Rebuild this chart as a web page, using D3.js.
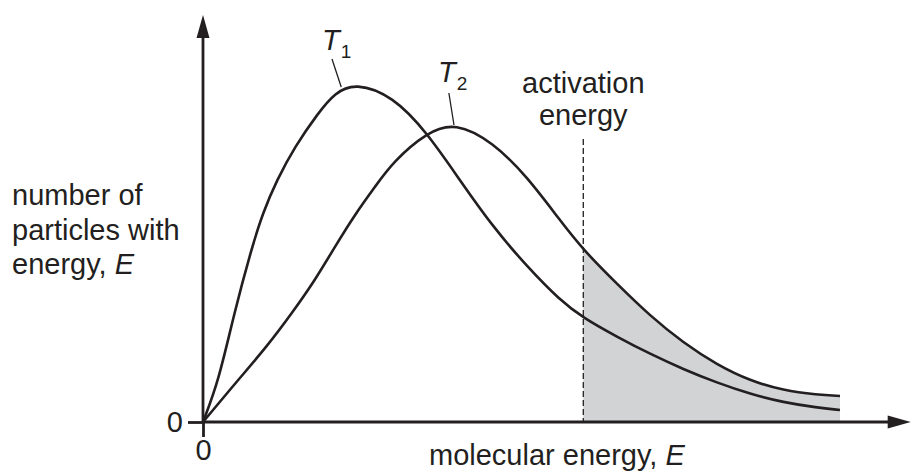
<!DOCTYPE html>
<html>
<head>
<meta charset="utf-8">
<script src="https://cdn.jsdelivr.net/npm/d3@7"></script>
<style>
  html, body { margin: 0; padding: 0; background: #fff; }
  svg { display: block; font-family: "Liberation Sans", Arial, Helvetica, sans-serif; }
</style>
</head>
<body>
<svg id="chart" width="912" height="473"></svg>
<script>
// ---- Data (energy 0–100 along x, relative number of particles 0–100 along y) ----
const t1Energy = [0, 2.5, 4.9, 7.7, 9.4, 11.6, 14.4, 18.1, 20.7, 23.9, 29.8, 35.2, 40.3, 45.5, 50.9, 56.0, 59.7, 65.0, 70.2, 75.4, 80.7, 85.9, 91.1, 96.4, 100];
const t1Count  = [0, 10.5, 27.3, 43.8, 52.3, 60.5, 68.8, 77.3, 82.3, 84.8, 81.5, 72.3, 60.5, 48.8, 38.8, 30.5, 26.0, 21.3, 17.0, 13.2, 9.8, 7.0, 4.9, 3.6, 3.0];
const t2Energy = [0, 5.5, 10.0, 14.0, 17.6, 20.7, 23.9, 27.0, 29.8, 35.2, 39.6, 45.5, 50.9, 56.0, 59.7, 65.0, 70.2, 75.4, 80.7, 85.9, 91.1, 96.4, 100];
const t2Count  = [0, 10.5, 18.8, 27.3, 35.5, 43.8, 52.0, 58.8, 65.0, 72.5, 74.9, 70.0, 61.3, 50.5, 43.0, 34.5, 26.5, 19.8, 14.3, 10.3, 7.9, 6.8, 6.5];
const activationEnergy = 59.7;
const xTicks = [0];
const yTicks = [0];
const xTickLabels = ["0"];
const yTickLabels = ["0"];
const yAxisTitle = ["number of", "particles with", "energy, "];
const xAxisTitle = "molecular energy, ";
const activationLabel = ["activation", "energy"];
const curveNames = ["1", "2"];

const svg = d3.select("#chart");
const ink = "#231f20";
const fontSize = 29;

// scales
const x = d3.scaleLinear().domain([0, 100]).range([203, 840]);
const y = d3.scaleLinear().domain([0, 100]).range([422, 22]);

const t1 = t1Energy.map((e, i) => ({e, n: t1Count[i]}));
const t2 = t2Energy.map((e, i) => ({e, n: t2Count[i]}));

const line = d3.line().x(d => x(d.e)).y(d => y(d.n)).curve(d3.curveBasis);
const area = d3.area().x(d => x(d.e)).y0(y(0)).y1(d => y(d.n)).curve(d3.curveBasis);

// clip for shaded region beyond activation energy
svg.append("clipPath").attr("id", "eaClip")
  .append("rect")
  .attr("x", x(activationEnergy)).attr("y", 0)
  .attr("width", x(100) - x(activationEnergy)).attr("height", y(0));

svg.append("path").datum(t2)
  .attr("d", area)
  .attr("fill", "#d1d3d4")
  .attr("clip-path", "url(#eaClip)");

// activation energy dashed line
svg.append("line")
  .attr("x1", x(activationEnergy)).attr("x2", x(activationEnergy))
  .attr("y1", y(70.75)).attr("y2", y(0))
  .attr("stroke", ink).attr("stroke-width", 1.3)
  .attr("stroke-dasharray", "6,3");

// curves
[t1, t2].forEach(d => {
  svg.append("path").datum(d)
    .attr("d", line)
    .attr("fill", "none")
    .attr("stroke", ink)
    .attr("stroke-width", 2.6)
    .attr("stroke-linejoin", "round");
});

// axes (ticks via d3 axes)
const gx = svg.append("g").attr("transform", `translate(0,${y(0)})`)
  .call(d3.axisBottom(x).tickValues(xTicks).tickFormat((d, i) => xTickLabels[i])
        .tickSize(15).tickSizeOuter(0).tickPadding(2));
const gy = svg.append("g").attr("transform", `translate(${x(0)},0)`)
  .call(d3.axisLeft(y).tickValues(yTicks).tickFormat((d, i) => yTickLabels[i])
        .tickSize(15).tickSizeOuter(0).tickPadding(5));
[gx, gy].forEach(g => {
  g.select(".domain").remove();
  g.selectAll(".tick line").attr("stroke", ink).attr("stroke-width", 2.8);
  g.selectAll(".tick text").attr("fill", ink)
    .style("font-size", fontSize + "px")
    .style("font-family", '"Liberation Sans", Arial, sans-serif');
});

// axis lines with arrowheads
const yTop = 101.75, xEnd = 111.1;
svg.append("line")
  .attr("x1", x(0)).attr("x2", x(0))
  .attr("y1", y(0)).attr("y2", y(yTop) + 20)
  .attr("stroke", ink).attr("stroke-width", 2.8);
svg.append("path")
  .attr("d", `M${x(0)},${y(yTop)} L${x(0) - 6.5},${y(yTop) + 23} L${x(0) + 6.5},${y(yTop) + 23} Z`)
  .attr("fill", ink);
svg.append("line")
  .attr("x1", x(0)).attr("x2", x(xEnd) - 20)
  .attr("y1", y(0)).attr("y2", y(0))
  .attr("stroke", ink).attr("stroke-width", 2.8);
svg.append("path")
  .attr("d", `M${x(xEnd)},${y(0)} L${x(xEnd) - 23},${y(0) - 6.5} L${x(xEnd) - 23},${y(0) + 6.5} Z`)
  .attr("fill", ink);

// curve labels with leader lines
const labelPos = [
  {tx: 18.7, ty: 93, lx1: 20.25, ly1: 90.75, lx2: 21.7, ly2: 83.75},
  {tx: 36.9, ty: 85, lx1: 38.6, ly1: 82.25, lx2: 39.4, ly2: 74.25}
];
labelPos.forEach((p, i) => {
  const t = svg.append("text")
    .attr("x", x(p.tx)).attr("y", y(p.ty))
    .attr("fill", ink).style("font-size", "29px");
  t.append("tspan").attr("font-style", "italic").text("T");
  t.append("tspan").attr("dx", 1).attr("dy", 8).style("font-size", "19px").text(curveNames[i]);
  svg.append("line")
    .attr("x1", x(p.lx1)).attr("y1", y(p.ly1))
    .attr("x2", x(p.lx2)).attr("y2", y(p.ly2))
    .attr("stroke", ink).attr("stroke-width", 1.3);
});

// activation energy label
activationLabel.forEach((s, i) => {
  svg.append("text")
    .attr("x", x(activationEnergy)).attr("y", 93 + i * 32)
    .attr("text-anchor", "middle")
    .attr("fill", ink).style("font-size", fontSize + "px")
    .text(s);
});

// y-axis title
yAxisTitle.forEach((s, i) => {
  const t = svg.append("text")
    .attr("x", 12).attr("y", 205 + i * 34.5)
    .attr("fill", ink).style("font-size", fontSize + "px")
    .text(s);
  if (i === yAxisTitle.length - 1) t.append("tspan").attr("font-style", "italic").text("E");
});

// x-axis title
const xt = svg.append("text")
  .attr("x", 429).attr("y", 465)
  .attr("fill", ink).style("font-size", fontSize + "px")
  .text(xAxisTitle);
xt.append("tspan").attr("font-style", "italic").text("E");
</script>
</body>
</html>
